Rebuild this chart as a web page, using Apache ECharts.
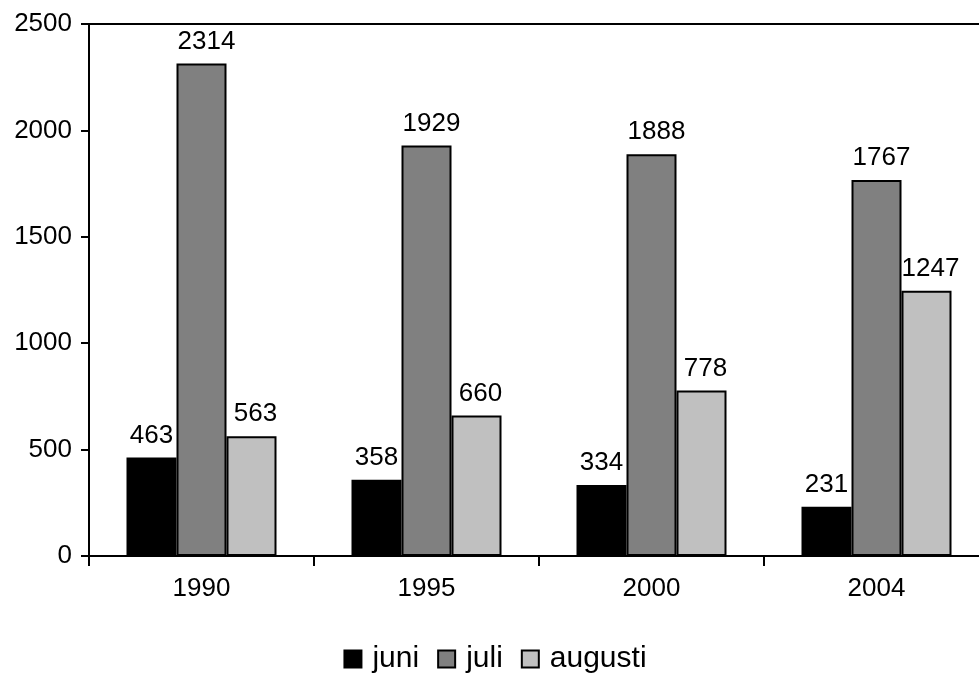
<!DOCTYPE html>
<html>
<head>
<meta charset="utf-8">
<script src="https://cdn.jsdelivr.net/npm/echarts@6/dist/echarts.min.js"></script>
<style>
  html, body { margin: 0; padding: 0; background: #fff; overflow: hidden; }
  #chart { width: 990px; height: 675px; }
</style>
</head>
<body>
<div id="chart"></div>
<script>
var years = ['1990', '1995', '2000', '2004'];
var seriesNames = ['juni', 'juli', 'augusti'];
var juni = [463, 358, 334, 231];
var juli = [2314, 1929, 1888, 1767];
var augusti = [563, 660, 778, 1247];
var colors = ['#000000', '#808080', '#c0c0c0'];

var font = "'Liberation Sans', Arial, sans-serif";

function bar(name, data, color, dx) {
  return {
    name: name,
    type: 'bar',
    data: data,
    barWidth: 50,
    barGap: '0%',
    itemStyle: { color: color, borderColor: '#000', borderWidth: 2 },
    label: {
      show: true,
      position: 'top',
      distance: 9,
      offset: [dx, 0],
      color: '#000',
      fontSize: 26,
      fontFamily: font
    }
  };
}

var chart = echarts.init(document.getElementById('chart'), null, { renderer: 'canvas' });
chart.setOption({
  animation: false,
  backgroundColor: '#fff',
  grid: {
    left: 89, right: 1, top: 24, bottom: 119,
    show: true, borderColor: '#000', borderWidth: 2
  },
  legend: {
    top: 639,
    left: 'center',
    icon: 'rect',
    itemWidth: 17,
    itemHeight: 17,
    itemGap: 18,
    textStyle: { color: '#000', fontSize: 30, fontFamily: font, padding: [0, 0, 0, 6] },
    data: seriesNames
  },
  xAxis: {
    type: 'category',
    data: years,
    axisLine: { lineStyle: { color: '#000', width: 2 } },
    axisTick: { show: true, length: 10, lineStyle: { color: '#000', width: 2 } },
    axisLabel: { color: '#000', fontSize: 26, fontFamily: font, margin: 20 }
  },
  yAxis: {
    type: 'value',
    min: 0,
    max: 2500,
    interval: 500,
    axisLine: { show: true, lineStyle: { color: '#000', width: 2 } },
    axisTick: { show: true, length: 8, lineStyle: { color: '#000', width: 2 } },
    splitLine: { show: false },
    axisLabel: {
      color: '#000', fontSize: 26, fontFamily: font, margin: 17,
      formatter: function (v) { return String(v); }
    }
  },
  series: [
    bar(seriesNames[0], juni, colors[0], 0),
    bar(seriesNames[1], juli, colors[1], 5),
    bar(seriesNames[2], augusti, colors[2], 4)
  ]
});
</script>
</body>
</html>
